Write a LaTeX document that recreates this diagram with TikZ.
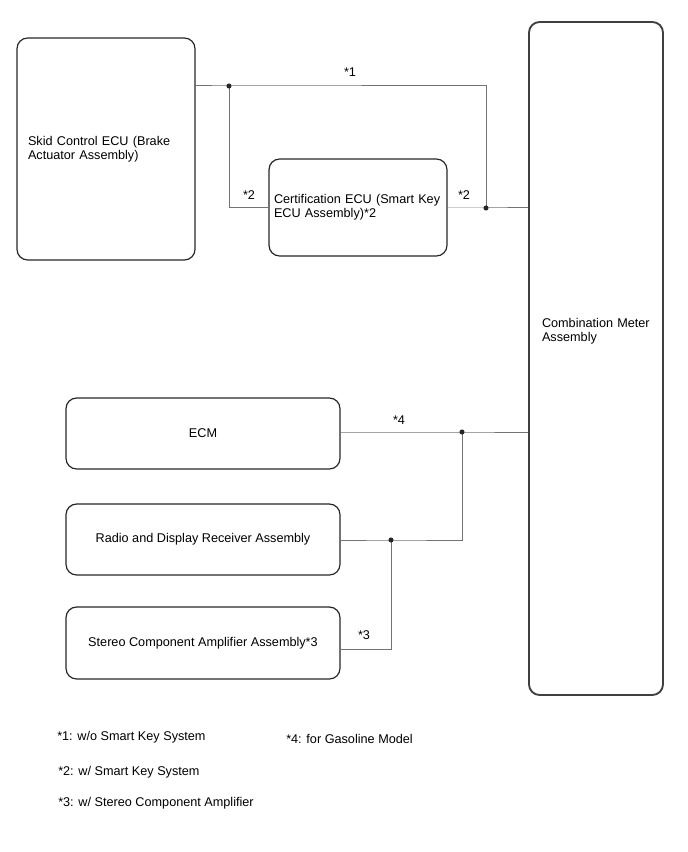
\documentclass[tikz,border=0pt]{standalone}
\usepackage{fontspec}
\setmainfont{Liberation Sans}
\def\r{1.9pt}
\def\v{circle (\r)}
\tikzset{
  ecubox/.style={draw=black!85, line width=0.9pt, rounded corners=8pt, inner sep=0pt, font=\fontsize{9.5}{10.5}\selectfont},
  wire/.style={draw=black!55, line width=0.75pt},
  note/.style={font=\fontsize{9.5}{10.5}\selectfont, inner sep=0pt}
}

\begin{document}
\begin{tikzpicture}[x=0.75pt,y=-0.75pt]
\useasboundingbox (0,0) rectangle (688,852);

\node[ecubox, minimum width=133.5pt, minimum height=166.5pt, text width=117pt, align=left] (skid) at (106,149) {Skid Control ECU (Brake\\Actuator Assembly)};
\node[ecubox, minimum width=133.5pt, minimum height=72.75pt, text width=126pt, align=left] (cert) at (358,207.5) {Certification ECU (Smart Key\\ECU Assembly)*2};
\node[ecubox, draw=black!75, line width=1.4pt, minimum width=100.5pt, minimum height=504.75pt] (cmb) at (596,358.5) {};
\node[note, text width=81pt, align=left] (cmbtext) at (596,331) {Combination Meter\\Assembly};
\node[ecubox, minimum width=205.5pt, minimum height=53.25pt] (ecm) at (203,433.5) {ECM};
\node[ecubox, minimum width=205.5pt, minimum height=53.25pt] (radio) at (203,539.5) {Radio and Display Receiver Assembly};
\node[ecubox, minimum width=205.5pt, minimum height=54pt] (stereo) at (203,643) {Stereo Component Amplifier Assembly*3};

\coordinate (j1) at (229,86);
\coordinate (j2) at (486,208);
\coordinate (j3) at (462,432);
\coordinate (j4) at (391,540);
\coordinate (s3) at (391,649);

% wires
\draw[wire] (skid.east |- j1) -- (j1) -- (j1 -| j2) -- (j2);
\draw[wire] (j1) |- (cert.west |- j2);
\draw[wire] (cert.east |- j2) -- (j2) -- (j2 -| cmb.west);
\draw[wire] (ecm.east |- j3) -- (j3) -- (j3 -| cmb.west);
\draw[wire] (radio.east |- j4) -- (j4) -| (j3);
\draw[wire] (stereo.east |- s3) -- (s3) -- (j4);
\foreach \x in {(j1), (j2), (j3), (j4)}{
	\fill[black!85] \x \v;
}

\node[note] (n1) at (350,72) {*1};
\node[note] (n2a) at (249,195) {*2};
\node[note] (n2b) at (464,195) {*2};
\node[note] (n4) at (399,420) {*4};
\node[note] (n3) at (364,635) {*3};

% footnotes
\node[note, anchor=west] (f1) at (57,737) {*1: w/o Smart Key System};
\node[note, anchor=west] (f4) at (286,739) {*4: for Gasoline Model};
\node[note, anchor=west] (f2) at (58,772) {*2: w/ Smart Key System};
\node[note, anchor=west] (f3) at (58,803) {*3: w/ Stereo Component Amplifier};
\end{tikzpicture}
\end{document}
